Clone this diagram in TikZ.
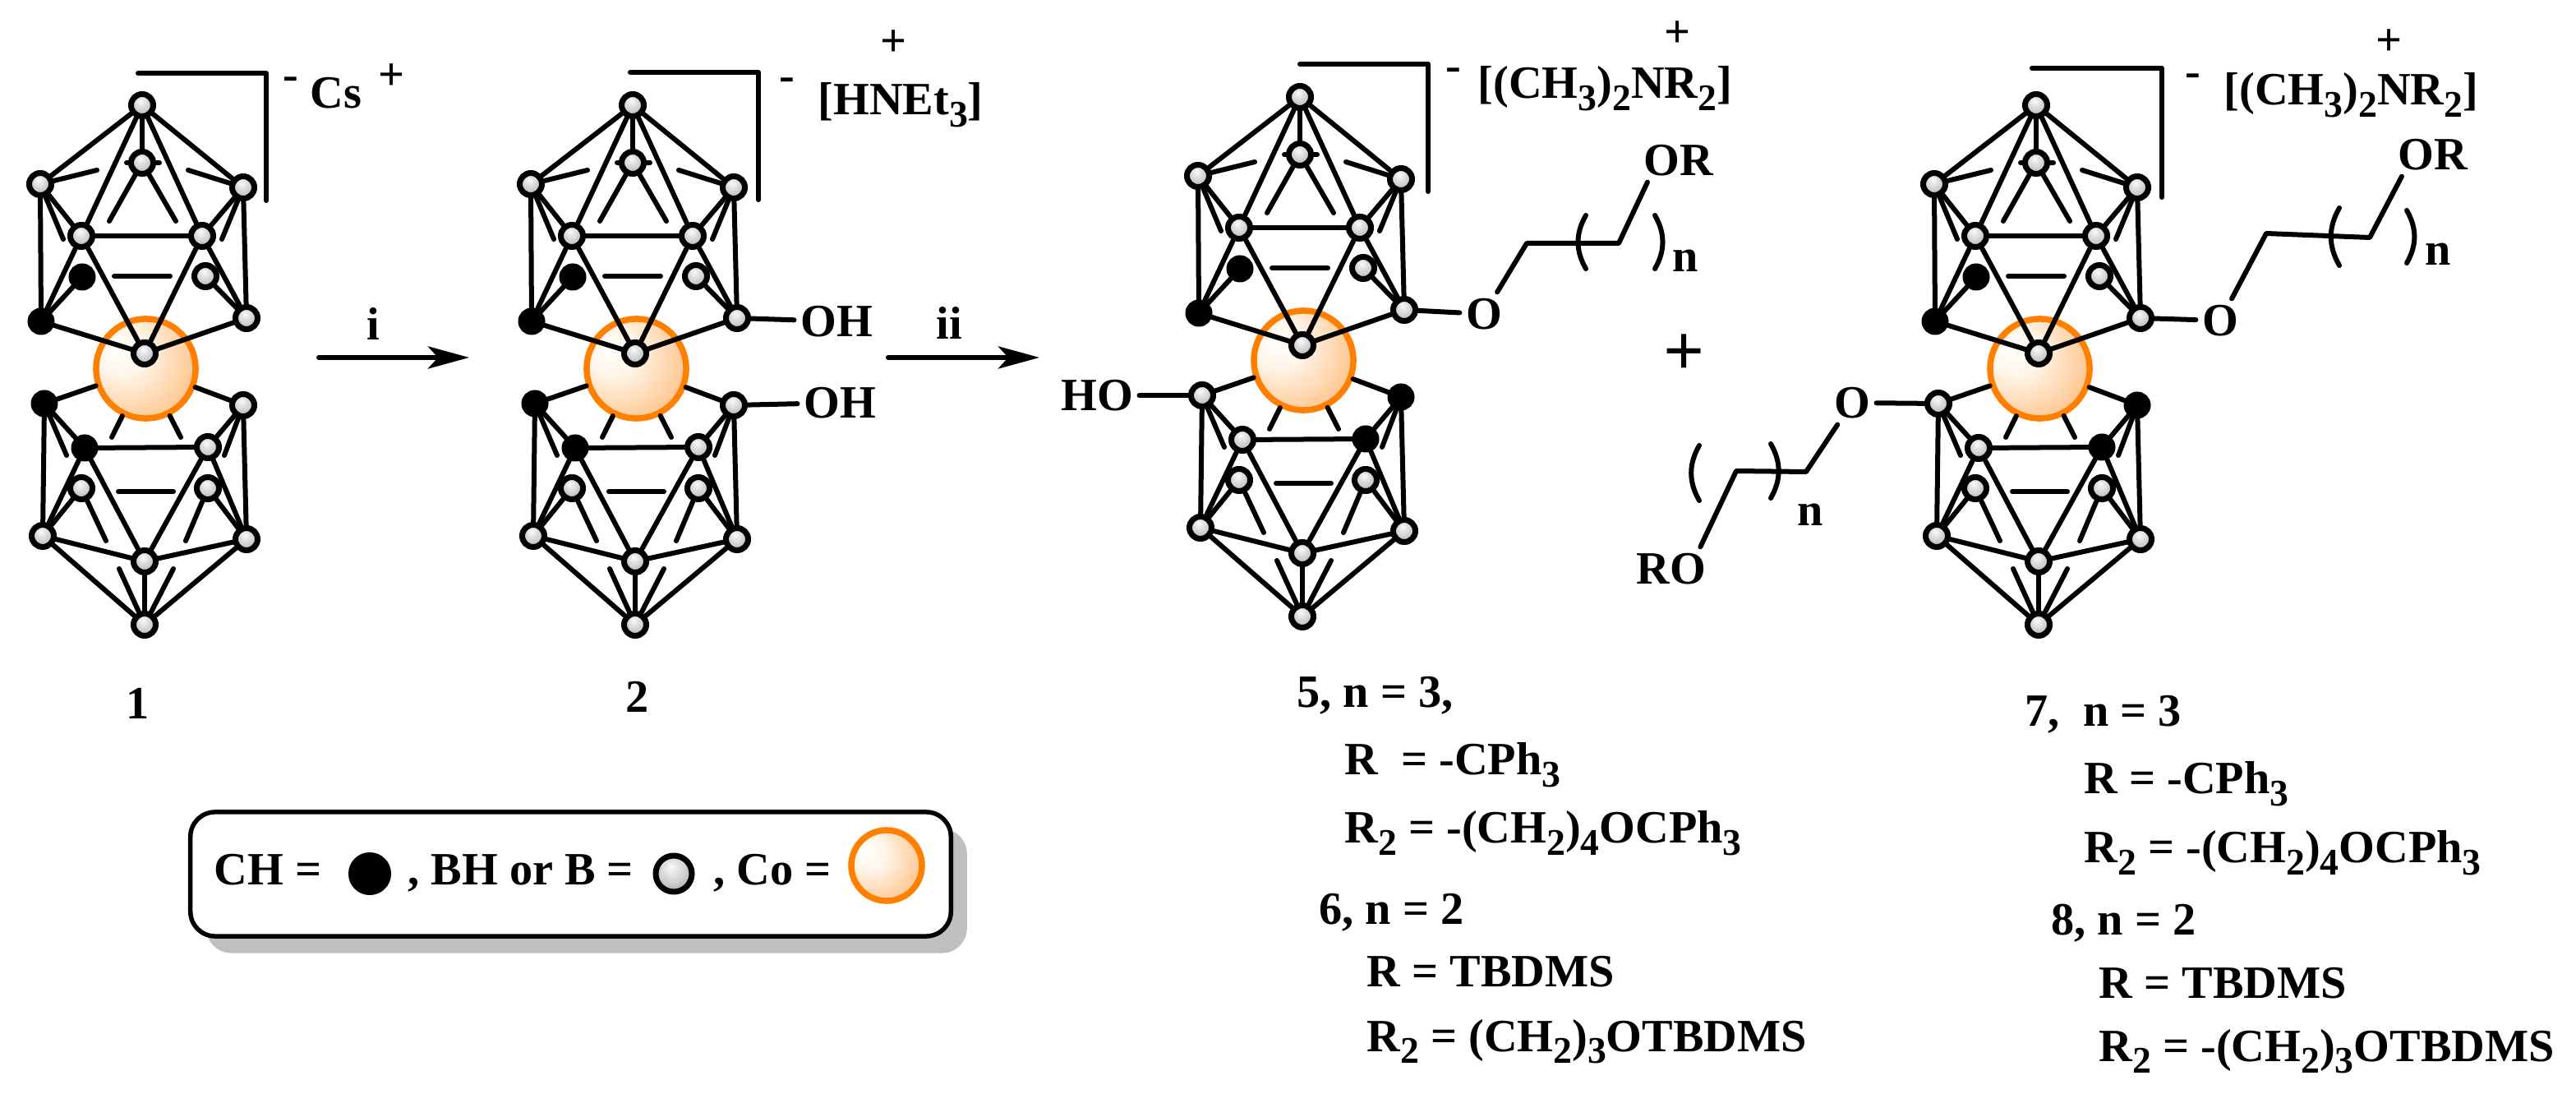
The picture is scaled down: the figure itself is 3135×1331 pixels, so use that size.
\documentclass[tikz,border=0pt]{standalone}
\usepackage{fontspec}
\setmainfont{Liberation Serif}
\usetikzlibrary{arrows.meta}
\definecolor{coorange}{rgb}{1,0.5,0}
\definecolor{legshade}{rgb}{0.75,0.75,0.75}
\pgfdeclareradialshading{coball}{\pgfpoint{-15bp}{10bp}}{rgb(0bp)=(1,1,1);rgb(12bp)=(1,0.96,0.91);rgb(45bp)=(1,0.68,0.38);rgb(70bp)=(1,0.52,0.1)}
\pgfdeclareradialshading{boronball}{\pgfpoint{-4bp}{10bp}}{rgb(0bp)=(0.98,0.98,0.98);rgb(20bp)=(0.8,0.8,0.8);rgb(55bp)=(0.3,0.3,0.3)}
\newcommand{\lowered}[1]{\raisebox{-4pt}{\fontsize{13}{15}\selectfont #1}}
\tikzset{
    bond/.style = {line width=0.06cm, line cap=round},
    batom/.style = {circle, draw=black, line width=0.07cm, inner sep=0pt, minimum size=0.27cm, shading=boronball},
    chatom/.style = {circle, draw=black, fill=black, line width=0.06cm, inner sep=0pt, minimum size=0.27cm},
    coatom/.style = {circle, draw=coorange, line width=0.075cm, inner sep=0pt, minimum size=1.21cm, shading=coball},
    lbl/.style = {font=\fontsize{16}{19}\bfseries\selectfont, inner sep=2pt},
    capt/.style = {lbl, anchor=base west, inner sep=0pt},
    step arrow/.style = {line width=0.06cm, -{Stealth[length=0.5cm,width=0.27cm,inset=0.12cm]}},
    lowl/.style = {chatom},
    lowr/.style = {batom},
    cage/.pic = {
    \node[coatom] (co) at (177.5,448.5) {};
    \foreach \n/\x/\y in {top/173/128, bk/173/198, ul/49/224, ur/296/228, fl/99/287, fr/246/287, dr/250/336, lr/300/387, fb/176/430,
        d2l/99/594, d2r/253/594, ll2/52/652, lr2/300/656, fb2/176/683, bot/176/760}
        \node[batom] (\n) at (\x,\y) {};
    \foreach \n/\x/\y in {dl/100/337, ll/50/391}
        \node[chatom] (\n) at (\x,\y) {};
    \node[lowl] (l2) at (54,491) {};
    \node[lowl] (l2f) at (103,545) {};
    \node[lowr] (r2) at (296,493) {};
    \node[lowr] (r2f) at (253,544) {};
    \foreach \n/\x/\y in {sa/118/207, sb/229/207, sc/133/269, sd/214/269, se/77/291, sf/270/291, sg/154/198, sh/194/198, si/139/336, sj/207/336,
        sk/136/532, sl/220/532, sm/81/554, so/273/554, sp/129/658, sq/226/658, sr/144/598, ss/211/598, st/145/692, su/211/692}
        \coordinate (\n) at (\x,\y);
    \foreach \a/\b in {top/ul, top/ur, top/bk, top/fl, top/fr, ul/fl, ur/fr, fl/fr, ul/ll, ur/lr, fl/ll, fr/lr, fl/fb, fr/fb, ll/fb, lr/fb, ll/dl, lr/dr,
        ul/sa, ur/sb, bk/sc, bk/sd, ul/se, ur/sf, bk/sg, bk/sh, si/sj,
        l2/co, r2/co, co/sk, co/sl, l2/l2f, r2/r2f, l2f/r2f, l2/ll2, r2/lr2, l2f/ll2, r2f/lr2, l2f/fb2, r2f/fb2, ll2/fb2, lr2/fb2, ll2/d2l, lr2/d2r,
        ll2/bot, lr2/bot, fb2/bot, l2/sm, r2/so, d2l/sp, d2r/sq, sr/ss, bot/st, bot/su}
        \draw[bond] (\a) -- (\b);
    }
}

\begin{document}
\begin{tikzpicture}[line cap=round,line join=round,x=0.01cm,y=-0.01cm]
    \useasboundingbox (0,0) rectangle (3135,1331);

    % the four cages
    \path pic (mA-) at (0,0) {cage};
    \path pic (mB-) at (597,0) {cage};
    \path pic[lowl/.style={batom}, lowr/.style={chatom}] (mC-) at (1409,-10) {cage};
    \path pic[lowl/.style={batom}, lowr/.style={chatom}] (mD-) at (2305,0) {cage};

    % charge brackets
    \coordinate (brA1) at (168,89); \coordinate (brA2) at (324,89); \coordinate (brA3) at (324,244);
    \coordinate (brB1) at (767,88); \coordinate (brB2) at (923,88); \coordinate (brB3) at (923,243);
    \coordinate (brC1) at (1582,78); \coordinate (brC2) at (1738,78); \coordinate (brC3) at (1738,233);
    \coordinate (brD1) at (2473,83); \coordinate (brD2) at (2631,83); \coordinate (brD3) at (2631,240);
    \foreach \m in {A,B,C,D}
        \draw[bond] (br\m1) -- (br\m2) -- (br\m3);

    \node[lbl] (minA) at (354,102) {-};
    \node[lbl] (cs) at (409,113) {Cs};
    \node[lbl] (plusA) at (477,94) {+};
    \node[lbl] (minB) at (958,103) {-};
    \node[capt] (hnet) at (995,140) {[HNEt\lowered{3}]};
    \node[lbl] (plusB) at (1088,53) {+};
    \node[lbl] (minC) at (1769,91) {-};
    \node[capt] (cationC) at (1798,120) {[(CH\lowered{3})\lowered{2}NR\lowered{2}]};
    \node[lbl] (plusC) at (2042,42) {+};
    \node[lbl] (minD) at (2669,98) {-};
    \node[capt] (cationD) at (2706,128) {[(CH\lowered{3})\lowered{2}NR\lowered{2}]};
    \node[lbl] (plusD) at (2908,52) {+};

    % reaction arrows
    \coordinate (arA1) at (388,435); \coordinate (arA2) at (571,435);
    \coordinate (arB1) at (1081,435); \coordinate (arB2) at (1265,435);
    \draw[step arrow] (arA1) -- (arA2);
    \draw[step arrow] (arB1) -- (arB2);
    \node[lbl] (stepi) at (454,394) {i};
    \node[lbl] (stepii) at (1155,393) {ii};

    % hydroxy groups
    \node[lbl] (ohA) at (1018,391) {OH};
    \node[lbl] (ohB) at (1022,490) {OH};
    \node[lbl] (hoC) at (1335,481) {HO};
    \draw[bond] (mB-lr) -- (ohA);
    \draw[bond] (mB-r2) -- (ohB);
    \draw[bond] (mC-l2) -- (hoC);

    % side chains
    \node[lbl] (oC) at (1806,382) {O};
    \node[lbl] (orC) at (2043,195) {OR};
    \node[lbl] (nC) at (2051,317) {n};
    \coordinate (cC1) at (1858,296); \coordinate (cC2) at (1970,296);
    \draw[bond] (mC-lr) -- (oC);
    \draw[bond] (oC) -- (cC1) -- (cC2) -- (orC.215);
    \draw[bond] (1930,262) to[bend right=30] (1930,327);
    \draw[bond] (2014,262) to[bend left=30] (2014,327);

    \node[lbl] (oD) at (2702,390) {O};
    \node[lbl] (orD) at (2961,188) {OR};
    \node[lbl] (nD) at (2967,309) {n};
    \coordinate (cD1) at (2758,284); \coordinate (cD2) at (2884,289);
    \draw[bond] (mD-lr) -- (oD);
    \draw[bond] (oD) -- (cD1) -- (cD2) -- (orD.215);
    \draw[bond] (2847,253) to[bend right=30] (2847,323);
    \draw[bond] (2929,256) to[bend left=30] (2929,320);

    \node[lbl] (oE) at (2254,490) {O};
    \node[lbl] (roE) at (2034,692) {RO};
    \node[lbl] (nE) at (2203,626) {n};
    \coordinate (cE1) at (2113,573); \coordinate (cE2) at (2198,574);
    \draw[bond] (mD-l2) -- (oE);
    \draw[bond] (oE) -- (cE2) -- (cE1) -- (roE.37);
    \draw[bond] (2068,542) to[bend right=30] (2068,609);
    \draw[bond] (2155,540) to[bend left=30] (2155,606);

    \node[lbl, font=\fontsize{25}{28}\bfseries\selectfont] (plusBig) at (2050,432) {+};

    % compound numbers
    \node[lbl] (numA) at (168,856) {1};
    \node[lbl] (numB) at (776,848) {2};

    % legend box
    \node[draw=none, fill=legshade, rounded corners=0.3cm, minimum width=9.25cm, minimum height=1.51cm, inner sep=0pt] (legshadow) at (714,1084) {};
    \node[draw=black, fill=white, line width=0.055cm, rounded corners=0.3cm, minimum width=9.25cm, minimum height=1.51cm, inner sep=0pt] (legbox) at (694.5,1063.5) {};
    \node[capt] (legch) at (260,1077) {CH =};
    \node[chatom, minimum size=0.46cm] (legdot) at (450,1063) {};
    \node[capt] (legb) at (496,1077) {, BH or B =};
    \node[batom, minimum size=0.44cm] (legball) at (820,1063) {};
    \node[capt] (legco) at (868,1077) {, Co =};
    \node[coatom, minimum size=0.86cm] (legcob) at (1079,1053) {};

    % captions
    \node[capt] (capa) at (1578,861) {5, n = 3,};
    \node[capt] (capb) at (1636,943) {R\ \ = -CPh\lowered{3}};
    \node[capt] (capc) at (1636,1026) {R\lowered{2} = -(CH\lowered{2})\lowered{4}OCPh\lowered{3}};
    \node[capt] (capd) at (1605,1124) {6, n = 2};
    \node[capt] (cape) at (1663,1201) {R = TBDMS};
    \node[capt] (capf) at (1663,1279) {R\lowered{2} = (CH\lowered{2})\lowered{3}OTBDMS};

    \node[capt] (capg) at (2464,884) {7,\ \ n = 3};
    \node[capt] (caph) at (2536,966) {R = -CPh\lowered{3}};
    \node[capt] (capi) at (2536,1050) {R\lowered{2} = -(CH\lowered{2})\lowered{4}OCPh\lowered{3}};
    \node[capt] (capj) at (2496,1137) {8, n = 2};
    \node[capt] (capk) at (2554,1214) {R = TBDMS};
    \node[capt] (capl) at (2554,1291) {R\lowered{2} = -(CH\lowered{2})\lowered{3}OTBDMS};
\end{tikzpicture}
\end{document}
